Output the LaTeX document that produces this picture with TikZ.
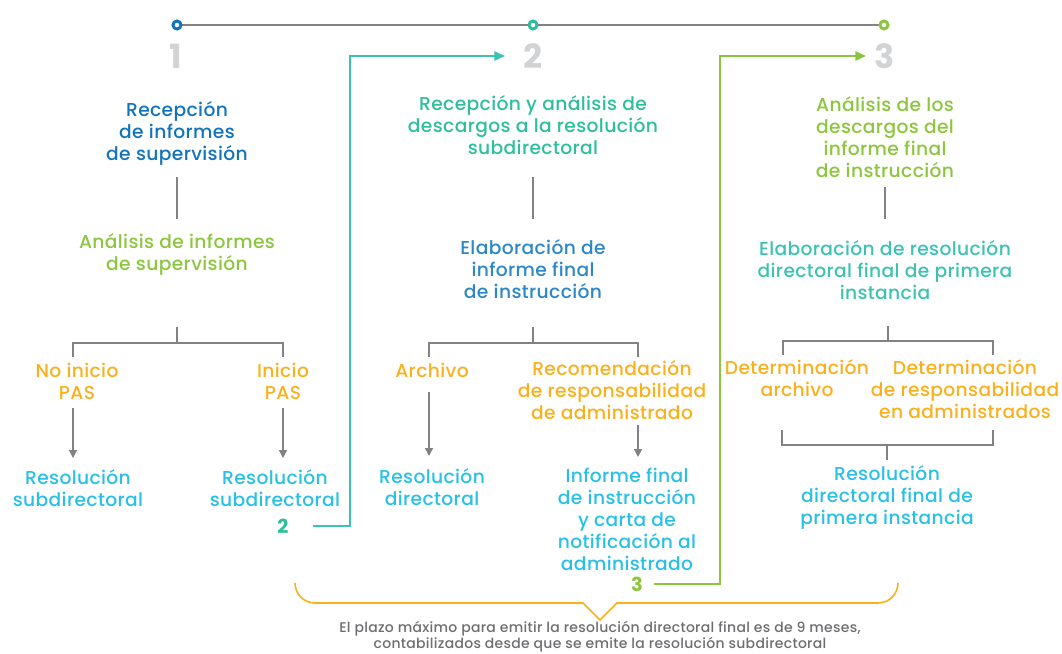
\documentclass[tikz,border=0pt]{standalone}
\usepackage{fontspec}
\setmainfont{Poppins Medium}[LetterSpace=2,BoldFont={Poppins Bold}]
\usetikzlibrary{arrows.meta}
\definecolor{cBlue}{HTML}{1174BB}
\definecolor{cBlueL}{HTML}{2B87C6}
\definecolor{cGreen}{HTML}{8CC63F}
\definecolor{cTeal}{HTML}{2DBE9C}
\definecolor{cTealL}{HTML}{3CC2B2}
\definecolor{cOrange}{HTML}{F9B01C}
\definecolor{cCyan}{HTML}{29C0E6}
\definecolor{cLine}{HTML}{808285}
\definecolor{cNum}{HTML}{D1D3D4}
\definecolor{cNote}{HTML}{6D6E71}
\tikzset{
  txt/.style={align=center, inner sep=0pt, font=\fontsize{14}{16.5}\selectfont},
  num/.style={inner sep=0pt, font=\fontsize{25}{25}\selectfont\bfseries, text=cNum},
  lnk/.style={inner sep=0pt, font=\fontsize{14.5}{14.5}\selectfont\bfseries},
  thin/.style={draw=cLine, line width=1pt},
  thick/.style={draw=cLine, line width=2pt},
  arr/.style={draw=cLine, line width=1pt, -{Triangle[width=6pt,length=6pt]}},
  dot/.style={line width=2.2pt, fill=white},
}
\begin{document}
\begin{tikzpicture}[x=0.75pt,y=-0.75pt]
\useasboundingbox (0,0) rectangle (1062,653);
% timeline
\coordinate (t1) at (177,25);
\coordinate (t2) at (533,25);
\coordinate (t3) at (884,25);
\draw[cLine, line width=1.3pt] (t1) -- (t3);
\draw[dot, draw=cBlue] (t1) circle (4);
\draw[dot, draw=cTeal] (t2) circle (4);
\draw[dot, draw=cGreen] (t3) circle (4);
\node[num] (n1) at (176,56) {1};
\node[num] (n2) at (533,56) {2};
\node[num] (n3) at (885,56) {3};

% column 1
\node[txt, text=cBlue] (a1) at (177,133) {Recepción\\de informes\\de supervisión};
\node[txt, text=cGreen] (a2) at (177,255) {Análisis de informes\\de supervisión};
\coordinate (a1b) at (177,177); \coordinate (a2t) at (177,219);
\draw[thin] (a1b) -- (a2t);
\coordinate (a2b) at (177,327); \coordinate (a2j) at (177,343);
\coordinate (a3l) at (73,357); \coordinate (a3r) at (283,357);
\draw[thick] (a2b) -- (a2j);
\draw[thick] (a3l) |- (a2j) -| (a3r);
\node[txt, text=cOrange] (a3) at (77,381) {No inicio\\PAS};
\node[txt, text=cOrange] (a4) at (283,381) {Inicio\\PAS};
\coordinate (a3s) at (73,408); \coordinate (a5t) at (73,458);
\coordinate (a4s) at (283,408); \coordinate (a6t) at (283,458);
\draw[arr] (a3s) -- (a5t);
\draw[arr] (a4s) -- (a6t);
\node[txt, text=cCyan] (a5) at (78,488) {Resolución\\subdirectoral};
\node[txt, text=cCyan] (a6) at (275,488) {Resolución\\subdirectoral};
\node[lnk, text=cTeal] (l2) at (283,526) {2};
\coordinate (l2c) at (350,56);
\coordinate (l2e) at (505,56);
\draw[draw=cTealL, line width=1.2pt, -{Triangle[width=7pt,length=8pt]}] ([xshift=18]l2.east) -| (l2c) -- (l2e);

% column 2
\node[txt, text=cTeal] (b1) at (533,125) {Recepción y análisis de\\descargos a la resolución\\subdirectoral};
\node[txt, text=cBlueL] (b2) at (533,269) {Elaboración de\\informe final\\de instrucción};
\coordinate (b1b) at (533,177); \coordinate (b2t) at (533,219);
\draw[thin] (b1b) -- (b2t);
\coordinate (b2b) at (533,327); \coordinate (b2j) at (533,343);
\coordinate (b3l) at (429,357); \coordinate (b3r) at (638,357);
\draw[thick] (b2b) -- (b2j);
\draw[thick] (b3l) |- (b2j) -| (b3r);
\node[txt, text=cOrange] (b3) at (432,370) {Archivo};
\node[txt, text=cOrange] (b4) at (612,390) {Recomendación\\de responsabilidad\\de administrado};
\coordinate (b3s) at (429,392); \coordinate (b5t) at (429,456);
\coordinate (b4s) at (638,425); \coordinate (b6t) at (638,457);
\draw[arr] (b3s) -- (b5t);
\draw[arr] (b4s) -- (b6t);
\node[txt, text=cCyan] (b5) at (432,487) {Resolución\\directoral};
\node[txt, text=cCyan] (b6) at (627,519) {Informe final\\de instrucción\\y carta de\\notificación al\\administrado};
\node[lnk, text=cGreen] (l3) at (637,584) {3};
\coordinate (l3c) at (720,56);
\coordinate (l3e) at (866,56);
\draw[draw=cGreen, line width=1.2pt, -{Triangle[width=7pt,length=8pt]}] ([xshift=8]l3.east) -| (l3c) -- (l3e);

% column 3
\node[txt, text=cGreen] (c1) at (885,137) {Análisis de los\\descargos del\\informe final\\de instrucción};
\node[txt, text=cTealL] (c2) at (885,270) {Elaboración de resolución\\directoral final de primera\\instancia};
\coordinate (c1b) at (885,187); \coordinate (c2t) at (885,219);
\draw[thin] (c1b) -- (c2t);
\coordinate (c2b) at (888,326); \coordinate (c2j) at (888,341);
\coordinate (c3l) at (783,355); \coordinate (c3r) at (993,355);
\draw[thick] (c2b) -- (c2j);
\draw[thick] (c3l) |- (c2j) -| (c3r);
\node[txt, text=cOrange] (c3) at (797,378) {Determinación\\archivo};
\node[txt, text=cOrange] (c4) at (965,389) {Determinación\\de responsabilidad\\en administrados};
\coordinate (c5l) at (782,430); \coordinate (c5r) at (993,430);
\coordinate (c5j) at (887,445); \coordinate (c5s) at (887,460);
\draw[thick] (c5l) |- (c5j) -| (c5r);
\draw[thick] (c5j) -- (c5s);
\node[txt, text=cCyan] (c5) at (887,497) {Resolución\\directoral final de\\primera instancia};

% brace
\coordinate (brL) at (295,583);
\coordinate (brR) at (898,583);
\coordinate (brP) at (600,620);
\draw[cOrange, line width=1.2pt] (brL) to[out=-90,in=180] (315,603) -- (583,603) -- (brP) -- (617,603) -- (878,603) to[out=0,in=-90] (brR);
\node[align=center, inner sep=0pt, text=cNote, font=\fontsize{10.5}{10.5}\selectfont] (note) at (600,637) {El plazo máximo para emitir la resolución directoral final es de 9 meses,\\contabilizados desde que se emite la resolución subdirectoral};
\end{tikzpicture}
\end{document}
